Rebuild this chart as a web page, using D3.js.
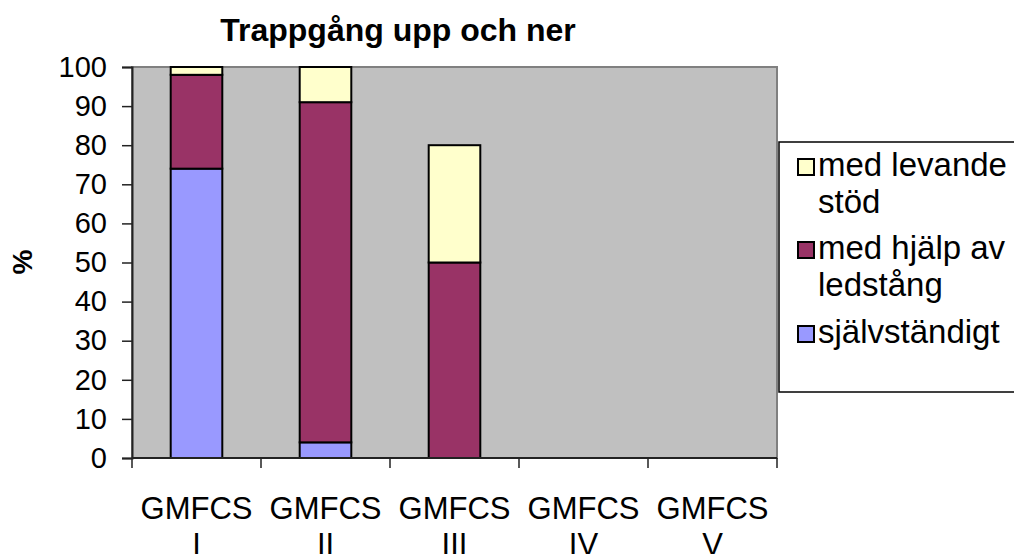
<!DOCTYPE html>
<html>
<head>
<meta charset="utf-8">
<script src="https://cdn.jsdelivr.net/npm/d3@7"></script>
<style>
  body { margin: 0; background: #fff; }
  text { font-family: Arial, "Liberation Sans", sans-serif; fill: #000; }
</style>
</head>
<body>
<div id="chart"></div>
<script>
// data
var categories = ["GMFCS I", "GMFCS II", "GMFCS III", "GMFCS IV", "GMFCS V"];
var sjalvstandigt = [74, 4, 0, 0, 0];
var ledstang = [24, 87, 50, 0, 0];
var levandeStod = [2, 9, 30, 0, 0];
var yTicks = [0, 10, 20, 30, 40, 50, 60, 70, 80, 90, 100];

var keys = ["s", "l", "m"];
var colors = { s: "#9999FF", l: "#993366", m: "#FFFFCC" };
var rows = categories.map(function(c, i) {
  return { cat: c, s: sjalvstandigt[i], l: ledstang[i], m: levandeStod[i] };
});

var width = 1014, height = 554;
var plot = { left: 132, top: 67, right: 777, bottom: 458 };

var svg = d3.select("#chart").append("svg")
  .attr("width", width)
  .attr("height", height);

var x = d3.scaleBand().domain(categories).range([plot.left, plot.right]).padding(0);
var y = d3.scaleLinear().domain([0, 100]).range([plot.bottom, plot.top]);

// plot area
svg.append("rect")
  .attr("x", plot.left).attr("y", plot.top)
  .attr("width", plot.right - plot.left).attr("height", plot.bottom - plot.top)
  .attr("fill", "#C0C0C0")
  .attr("stroke", "#808080")
  .attr("stroke-width", 2);

// stacked bars
var stacked = d3.stack().keys(keys)(rows);
var barW = x.bandwidth() * 0.4;
svg.append("g")
  .selectAll("g")
  .data(stacked)
  .enter().append("g")
  .attr("fill", function(d) { return colors[d.key]; })
  .selectAll("rect")
  .data(function(d) { return d.filter(function(p) { return p[1] - p[0] > 0; }); })
  .enter().append("rect")
  .attr("x", function(d) { return x(d.data.cat) + (x.bandwidth() - barW) / 2; })
  .attr("y", function(d) { return y(d[1]); })
  .attr("width", barW)
  .attr("height", function(d) { return y(d[0]) - y(d[1]); })
  .attr("stroke", "#000")
  .attr("stroke-width", 2);

// y axis
var yAxis = svg.append("g")
  .attr("transform", "translate(" + plot.left + ",0)")
  .call(d3.axisLeft(y).tickValues(yTicks).tickSize(10).tickPadding(15));
yAxis.select(".domain").attr("stroke", "#222").attr("stroke-width", 2);
yAxis.selectAll(".tick line").attr("stroke", "#222").attr("stroke-width", 1.5);
yAxis.selectAll(".tick text")
  .attr("font-size", 29)
  .attr("font-family", "Arial, 'Liberation Sans', sans-serif")
  .attr("fill", "#000");

// x axis: ticks on band boundaries
var xAxis = svg.append("g");
xAxis.append("line")
  .attr("x1", plot.left).attr("x2", plot.right)
  .attr("y1", plot.bottom).attr("y2", plot.bottom)
  .attr("stroke", "#222").attr("stroke-width", 2);
var bounds = categories.map(function(c) { return x(c); }).concat([x(categories[categories.length - 1]) + x.bandwidth()]);
xAxis.selectAll(".tk")
  .data(bounds)
  .enter().append("line")
  .attr("x1", function(d) { return d; }).attr("x2", function(d) { return d; })
  .attr("y1", plot.bottom).attr("y2", plot.bottom + 10)
  .attr("stroke", "#222").attr("stroke-width", 1.5);

var xl = xAxis.selectAll(".xl")
  .data(categories)
  .enter().append("text")
  .attr("text-anchor", "middle")
  .attr("font-size", 31);
xl.append("tspan")
  .attr("x", function(d) { return x(d) + x.bandwidth() / 2; })
  .attr("y", 519)
  .text(function(d) { return d.split(" ")[0]; });
xl.append("tspan")
  .attr("x", function(d) { return x(d) + x.bandwidth() / 2; })
  .attr("y", 555)
  .text(function(d) { return d.split(" ")[1]; });

// title
svg.append("text")
  .attr("x", 398).attr("y", 41)
  .attr("text-anchor", "middle")
  .attr("font-size", 32)
  .attr("font-weight", "bold")
  .text("Trappgång upp och ner");

// y title
svg.append("text")
  .attr("transform", "translate(32,262) rotate(-90)")
  .attr("text-anchor", "middle")
  .attr("font-size", 28)
  .attr("font-weight", "bold")
  .text("%");

// legend
var legend = svg.append("g");
legend.append("rect")
  .attr("x", 779).attr("y", 142)
  .attr("width", 260).attr("height", 250)
  .attr("fill", "#fff")
  .attr("stroke", "#000")
  .attr("stroke-width", 1.5);

var legendItems = [
  { key: "m", lines: ["med levande", "stöd"], base: 176 },
  { key: "l", lines: ["med hjälp av", "ledstång"], base: 259 },
  { key: "s", lines: ["självständigt"], base: 343 }
];
legendItems.forEach(function(it) {
  legend.append("rect")
    .attr("x", 798).attr("y", it.base - 17)
    .attr("width", 16).attr("height", 16)
    .attr("fill", colors[it.key])
    .attr("stroke", "#000")
    .attr("stroke-width", 2);
  it.lines.forEach(function(line, j) {
    legend.append("text")
      .attr("x", 818)
      .attr("y", it.base + j * 37)
      .attr("font-size", 33)
      .text(line);
  });
});
</script>
</body>
</html>
